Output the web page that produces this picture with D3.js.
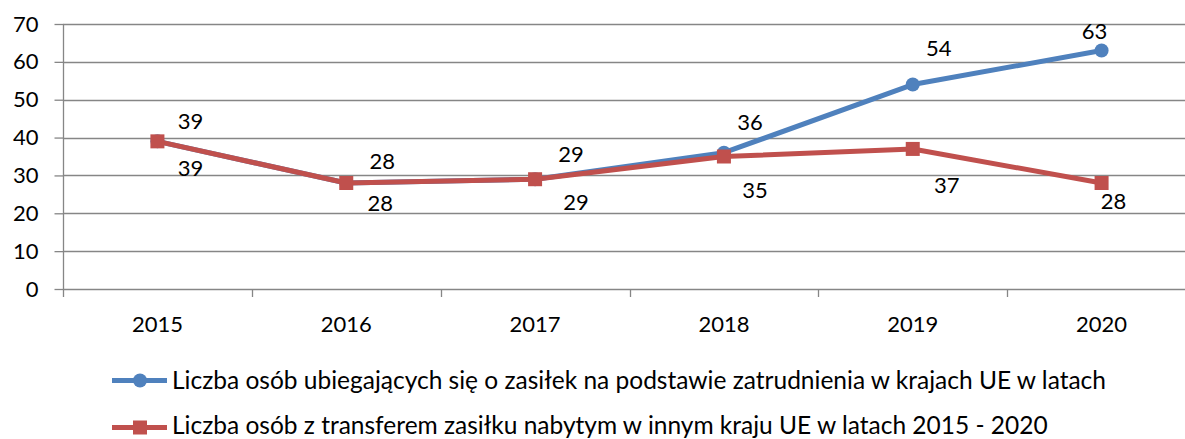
<!DOCTYPE html>
<html>
<head>
<meta charset="utf-8">
<script src="https://cdn.jsdelivr.net/npm/d3@7"></script>
<style>
html,body{margin:0;padding:0;background:#fff;}
svg{display:block;}
text{font-family:Lato,"Open Sans",sans-serif;fill:#000;}
</style>
</head>
<body>
<svg id="chart" width="1185" height="439"></svg>
<script>
const categories = ["2015","2016","2017","2018","2019","2020"];
const seriesNames = [
  "Liczba osób ubiegających się o zasiłek na podstawie zatrudnienia w krajach UE w latach",
  "Liczba osób z transferem zasiłku nabytym w innym kraju UE w latach 2015 - 2020"
];
const blueValues = [39, 28, 29, 36, 54, 63];
const redValues = [39, 28, 29, 35, 37, 28];
const yTicks = [0, 10, 20, 30, 40, 50, 60, 70];

(function () {
// layout (not data)
const blueLabelOffsets = [[33,-20],[36,-22],[36,-25],[26,-31],[26,-37],[-7,-20]];
const redLabelOffsets  = [[33,27],[34,20],[41,23],[31,33],[34,36],[12,18]];

const svg = d3.select("#chart");
const pLeft = 63, pTop = 24, pBottom = 289, pRight = 1196;
const fontSize = 22;
const legendFontSize = 24.5;

const x = d3.scaleBand().domain(categories).range([pLeft, pRight]).padding(0);
const y = d3.scaleLinear().domain([0, 70]).range([pBottom, pTop]);
const cx = c => x(c) + x.bandwidth() / 2;

const gridColor = "#868686";
const blue = "#4F81BD", red = "#C0504D";

// gridlines
svg.append("g").selectAll("line").data(yTicks).join("line")
  .attr("x1", pLeft).attr("x2", pRight)
  .attr("y1", d => Math.round(y(d)) + 0.5).attr("y2", d => Math.round(y(d)) + 0.5)
  .attr("stroke", gridColor).attr("stroke-width", 1.3);

// y axis
const yAxis = d3.axisLeft(y).tickValues(yTicks).tickSize(9).tickPadding(16);
const gy = svg.append("g").attr("transform", `translate(${pLeft + 0.5},0)`).call(yAxis);
gy.select(".domain").remove();
gy.append("line").attr("x1", 0).attr("x2", 0).attr("y1", pTop).attr("y2", pBottom + 8)
  .attr("stroke", gridColor).attr("stroke-width", 1.3);
gy.selectAll(".tick line").attr("stroke", gridColor).attr("stroke-width", 1.3);
gy.selectAll(".tick text").style("font-family", "Lato").attr("font-size", fontSize).attr("fill", "#000");

// x axis ticks at band boundaries
const boundaries = categories.map(c => x(c)).concat([pRight]);
svg.append("g").selectAll("line").data(boundaries.slice(1)).join("line")
  .attr("x1", d => Math.round(d) + 0.5).attr("x2", d => Math.round(d) + 0.5)
  .attr("y1", pBottom).attr("y2", pBottom + 8)
  .attr("stroke", gridColor).attr("stroke-width", 1.3);
svg.append("g").selectAll("text").data(categories).join("text")
  .attr("x", d => cx(d)).attr("y", 332)
  .attr("text-anchor", "middle").attr("font-size", fontSize).text(d => d);

const line = d3.line().x((d, i) => cx(categories[i])).y(d => y(d));

// blue series
svg.append("path").datum(blueValues).attr("d", line)
  .attr("fill", "none").attr("stroke", blue).attr("stroke-width", 5).attr("stroke-linejoin", "round");
svg.append("g").selectAll("circle").data(blueValues).join("circle")
  .attr("cx", (d, i) => cx(categories[i])).attr("cy", d => y(d)).attr("r", 7).attr("fill", blue);

// red series
svg.append("path").datum(redValues).attr("d", line)
  .attr("fill", "none").attr("stroke", red).attr("stroke-width", 5).attr("stroke-linejoin", "round");
svg.append("g").selectAll("rect").data(redValues).join("rect")
  .attr("x", (d, i) => cx(categories[i]) - 7).attr("y", d => y(d) - 7)
  .attr("width", 14).attr("height", 14).attr("fill", red);

// data labels
svg.append("g").selectAll("text").data(blueValues).join("text")
  .attr("x", (d, i) => cx(categories[i]) + blueLabelOffsets[i][0])
  .attr("y", (d, i) => y(d) + blueLabelOffsets[i][1] + 8)
  .attr("text-anchor", "middle").attr("font-size", fontSize).text(d => d);
svg.append("g").selectAll("text").data(redValues).join("text")
  .attr("x", (d, i) => cx(categories[i]) + redLabelOffsets[i][0])
  .attr("y", (d, i) => y(d) + redLabelOffsets[i][1] + 8)
  .attr("text-anchor", "middle").attr("font-size", fontSize).text(d => d);

// legend
const legend = [
  {name: seriesNames[0], color: blue, shape: "circle", ly: 380.5, ty: 388.5},
  {name: seriesNames[1], color: red, shape: "square", ly: 427.5, ty: 433.5}
];
const lg = svg.append("g");
legend.forEach(l => {
  lg.append("line").attr("x1", 112).attr("x2", 167).attr("y1", l.ly).attr("y2", l.ly)
    .attr("stroke", l.color).attr("stroke-width", 5);
  if (l.shape === "circle") {
    lg.append("circle").attr("cx", 140).attr("cy", l.ly).attr("r", 7).attr("fill", l.color);
  } else {
    lg.append("rect").attr("x", 133).attr("y", l.ly - 7).attr("width", 14).attr("height", 14).attr("fill", l.color);
  }
  lg.append("text").attr("x", 172).attr("y", l.ty).attr("font-size", legendFontSize).text(l.name);
});
})();
</script>
</body>
</html>
